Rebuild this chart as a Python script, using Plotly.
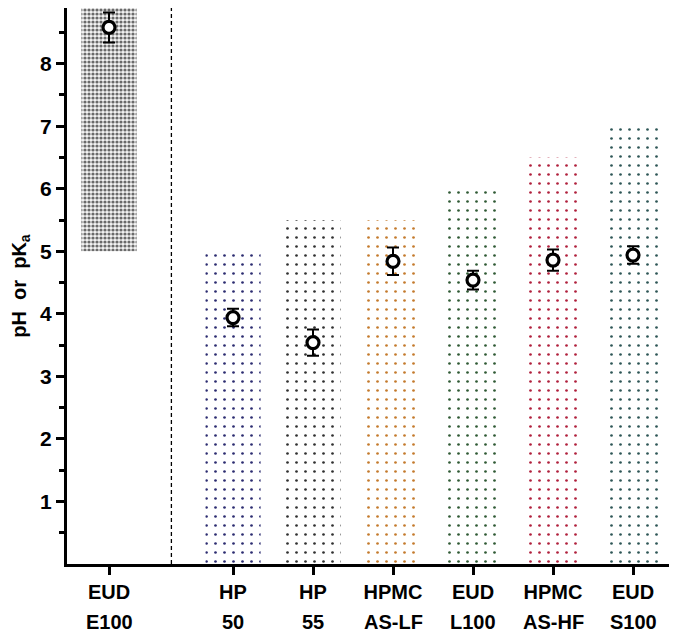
import plotly.graph_objects as go

# ---- data ----
line1 = ["EUD", "HP", "HP", "HPMC", "EUD", "HPMC", "EUD"]
line2 = ["E100", "50", "55", "AS-LF", "L100", "AS-HF", "S100"]
ph_low = [5.0, 0.0, 0.0, 0.0, 0.0, 0.0, 0.0]       # bar bottom (pH range)
ph_high = [9.0, 5.0, 5.5, 5.5, 6.0, 6.5, 7.0]      # bar top (pH range)
pka = [8.58, 3.94, 3.54, 4.84, 4.54, 4.86, 4.94]
pka_err = [0.24, 0.14, 0.21, 0.22, 0.15, 0.17, 0.14]

# ---- layout helpers ----
xpos = [0, 1.55, 2.55, 3.55, 4.55, 5.55, 6.55]
divider_x = 0.78
colors = ["#6a6a6a", "#2c2c70", "#303030", "#c47a2c", "#2f5a34", "#b0203c", "#2e5656"]
FONT = "Liberation Sans, Arial, sans-serif"

fig = go.Figure()

for i in range(len(xpos)):
    if i == 0:
        pat = dict(shape=".", fgcolor=colors[i], bgcolor="#f4f4f4", size=4, solidity=0.5, fillmode="replace")
    else:
        pat = dict(shape=".", fgcolor=colors[i], bgcolor="white", size=9, solidity=0.07, fillmode="replace")
    fig.add_trace(go.Bar(
        x=[xpos[i]], y=[ph_high[i] - ph_low[i]], base=[ph_low[i]],
        width=0.69, marker=dict(color="white", line=dict(width=0), pattern=pat),
        showlegend=False, hoverinfo="skip"))

fig.add_trace(go.Scatter(
    x=xpos, y=pka, mode="markers",
    marker=dict(symbol="circle", size=12, color="white", line=dict(color="black", width=3.2)),
    error_y=dict(type="data", array=pka_err, visible=True, color="black", thickness=2, width=6),
    showlegend=False))

fig.add_shape(type="line", xref="x", yref="paper", x0=divider_x, x1=divider_x, y0=0, y1=1,
              line=dict(color="black", width=1.3, dash="4px,3px"))

for xp, t in zip(xpos, line2):
    fig.add_annotation(x=xp, y=-0.105, xref="x", yref="paper", text="<b>%s</b>" % t,
                       showarrow=False, yanchor="middle",
                       font=dict(family=FONT, size=20, color="black"))

fig.update_layout(
    width=669, height=633,
    margin=dict(l=59, r=0, t=0, b=77),
    plot_bgcolor="white", paper_bgcolor="white",
    font=dict(family=FONT, color="black"),
    barmode="overlay",
    xaxis=dict(range=[-0.525, 7.1], tickvals=xpos, ticktext=["<b>%s</b>" % t for t in line1],
               ticks="outside", ticklen=8, tickwidth=3, tickcolor="black", automargin=False,
               showline=True, linewidth=3, linecolor="black", showgrid=False, zeroline=False,
               tickfont=dict(family=FONT, size=20, color="black")),
    yaxis=dict(range=[0, 8.89], tickvals=[1, 2, 3, 4, 5, 6, 7, 8],
               ticktext=["<b>%d</b>" % v for v in range(1, 9)], automargin=False,
               ticks="outside", ticklen=8, tickwidth=3, tickcolor="black",
               minor=dict(tickvals=[0.5 + k for k in range(9)], ticks="outside", ticklen=5,
                          tickwidth=3, tickcolor="black"),
               showline=True, linewidth=3, linecolor="black", showgrid=False, zeroline=False,
               tickfont=dict(family=FONT, size=21, color="black"),
               title=dict(text="<b>pH  or  pK<sub>a</sub></b>", standoff=14,
                          font=dict(family=FONT, size=20, color="black"))),
)

fig.write_html("out.html")
